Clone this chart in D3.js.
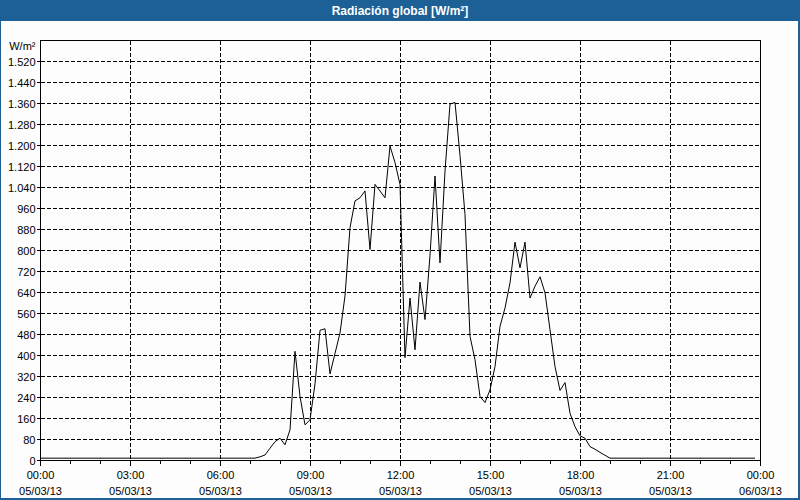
<!DOCTYPE html>
<html>
<head>
<meta charset="utf-8">
<script src="https://cdn.jsdelivr.net/npm/d3@7/dist/d3.min.js"></script>
<style>
  html, body { margin: 0; padding: 0; background: #ffffff; }
  svg { display: block; }
  text { font-family: "Liberation Sans", Arial, sans-serif; }
</style>
</head>
<body>
<svg id="chart" width="800" height="500"></svg>
<script>
// ---- Data (10-minute readings, 05/03/13 00:00 .. 23:50) ----
const title = "Radiación global [W/m²]";
const unitLabel = "W/m²";
const stepMinutes = 10;
const radiation = [
  // 00:00 - 00:50
  7, 7, 7, 7, 7, 7,
  // 01:00
  7, 7, 7, 7, 7, 7,
  // 02:00
  7, 7, 7, 7, 7, 7,
  // 03:00
  7, 7, 7, 7, 7, 7,
  // 04:00
  7, 7, 7, 7, 7, 7,
  // 05:00
  7, 7, 7, 7, 7, 7,
  // 06:00
  7, 7, 7, 7, 7, 7,
  // 07:00
  7, 7, 12, 19, 45, 70,
  // 08:00
  83, 58, 115, 414, 242, 134,
  // 09:00
  153, 290, 494, 500, 328, 406,
  // 10:00
  484, 625, 885, 987, 999, 1025,
  // 11:00
  802, 1050, 1025, 999, 1196, 1133,
  // 12:00
  1050, 390, 617, 420, 678, 535,
  // 13:00
  780, 1082, 751, 1100, 1356, 1362,
  // 14:00
  1160, 935, 471, 382, 242, 219,
  // 15:00
  267, 356, 509, 579, 675, 830,
  // 16:00
  732, 830, 617, 662, 698, 637,
  // 17:00
  496, 356, 265, 295, 178, 127,
  // 18:00
  92, 83, 51, 41, 29, 18,
  // 19:00
  7, 7, 7, 7, 7, 7,
  // 20:00
  7, 7, 7, 7, 7, 7,
  // 21:00
  7, 7, 7, 7, 7, 7,
  // 22:00
  7, 7, 7, 7, 7, 7,
  // 23:00
  7, 7, 7, 7, 7, 7
];
const xTickMinutes = [0, 180, 360, 540, 720, 900, 1080, 1260, 1440];
const xTimeLabels = ["00:00", "03:00", "06:00", "09:00", "12:00", "15:00", "18:00", "21:00", "00:00"];
const xDateLabels = ["05/03/13", "05/03/13", "05/03/13", "05/03/13", "05/03/13", "05/03/13", "05/03/13", "05/03/13", "06/03/13"];
const xMinorMinutes = [60, 120, 240, 300, 420, 480, 600, 660, 780, 840, 960, 1020, 1140, 1200, 1320, 1380];
const yTicks = [0, 80, 160, 240, 320, 400, 480, 560, 640, 720, 800, 880, 960, 1040, 1120, 1200, 1280, 1360, 1440, 1520];
const yMax = 1600;
const dayMinutes = 1440;

// ---- Layout ----
const W = 800, H = 500;
const plot = { left: 40, right: 760, top: 40, bottom: 460 };
const svg = d3.select("#chart");

const x = d3.scaleLinear().domain([0, dayMinutes]).range([plot.left, plot.right]);
const y = d3.scaleLinear().domain([0, yMax]).range([plot.bottom, plot.top]);

const locale = d3.formatLocale({ decimal: ",", thousands: ".", grouping: [3], currency: ["", "€"] });
const fmt = locale.format(",d");

// background + frame
svg.append("rect").attr("x", 0).attr("y", 0).attr("width", W).attr("height", H).attr("fill", "#1d6096");
svg.append("rect").attr("x", 1).attr("y", 21).attr("width", W - 3).attr("height", H - 23).attr("fill", "#fcfdfc");

// title
svg.append("text")
  .attr("x", W / 2).attr("y", 15)
  .attr("text-anchor", "middle")
  .attr("fill", "#ffffff")
  .attr("font-weight", "bold")
  .attr("font-size", "12px")
  .text(title);

// horizontal grid
const g = svg.append("g").attr("shape-rendering", "crispEdges");
g.selectAll("line.hgrid")
  .data(yTicks.filter(d => d > 0))
  .enter().append("line")
  .attr("class", "hgrid")
  .attr("x1", plot.left + 1).attr("x2", plot.right)
  .attr("y1", d => Math.round(y(d)) + 0.5).attr("y2", d => Math.round(y(d)) + 0.5)
  .attr("stroke", "#000").attr("stroke-width", 1).attr("stroke-dasharray", "4,2");

// vertical grid
g.selectAll("line.vgrid")
  .data(xTickMinutes.filter(d => d > 0 && d < dayMinutes))
  .enter().append("line")
  .attr("class", "vgrid")
  .attr("x1", d => Math.round(x(d)) + 0.5).attr("x2", d => Math.round(x(d)) + 0.5)
  .attr("y1", plot.top + 1).attr("y2", plot.bottom)
  .attr("stroke", "#000").attr("stroke-width", 1).attr("stroke-dasharray", "4,2");

// plot frame
g.append("rect")
  .attr("x", plot.left + 0.5).attr("y", plot.top + 0.5)
  .attr("width", plot.right - plot.left).attr("height", plot.bottom - plot.top)
  .attr("fill", "none").attr("stroke", "#000").attr("stroke-width", 1);

// y axis ticks + labels
const yAxis = d3.axisLeft(y).tickValues(yTicks).tickFormat(fmt).tickSize(4).tickPadding(1);
const ya = svg.append("g").attr("transform", `translate(${plot.left + 0.5},0)`).call(yAxis);
ya.select(".domain").remove();
ya.selectAll(".tick line").attr("stroke", "#000").attr("shape-rendering", "crispEdges");
ya.selectAll(".tick").attr("transform", d => `translate(0,${Math.round(y(d)) + 0.5})`);
ya.selectAll(".tick text")
  .attr("font-family", "Liberation Sans, Arial, sans-serif")
  .attr("font-size", "11px").attr("fill", "#000")
  .attr("x", -5).attr("dy", "4px");

svg.append("text")
  .attr("x", 35.5).attr("y", 50)
  .attr("text-anchor", "end").attr("font-size", "11px").attr("fill", "#000")
  .text(unitLabel);

// x axis major ticks + labels
const xAxis = d3.axisBottom(x).tickValues(xTickMinutes).tickSize(5).tickFormat(() => "");
const xa = svg.append("g").attr("transform", `translate(0,${plot.bottom + 0.5})`).call(xAxis);
xa.select(".domain").remove();
xa.selectAll(".tick").attr("transform", d => `translate(${Math.round(x(d)) + 0.5},0)`);
xa.selectAll(".tick line").attr("stroke", "#000").attr("shape-rendering", "crispEdges");
xa.selectAll(".tick text").remove();
xa.selectAll(".tick").each(function(d, i) {
  const t = d3.select(this);
  t.append("text").attr("y", 18).attr("text-anchor", "middle").attr("font-size", "11px").attr("fill", "#000").text(xTimeLabels[i]);
  t.append("text").attr("y", 34).attr("text-anchor", "middle").attr("font-size", "11px").attr("fill", "#000").text(xDateLabels[i]);
});

// x minor ticks
const xm = d3.axisBottom(x).tickValues(xMinorMinutes).tickSize(3).tickFormat(() => "");
const xma = svg.append("g").attr("transform", `translate(0,${plot.bottom + 0.5})`).call(xm);
xma.select(".domain").remove();
xma.selectAll(".tick").attr("transform", d => `translate(${Math.round(x(d)) + 0.5},0)`);
xma.selectAll(".tick line").attr("stroke", "#000").attr("shape-rendering", "crispEdges");

// data line
const line = d3.line()
  .x((d, i) => x(i * stepMinutes))
  .y(d => y(d));
svg.append("path")
  .datum(radiation)
  .attr("d", line)
  .attr("fill", "none")
  .attr("stroke", "#000")
  .attr("stroke-width", 1);
</script>
</body>
</html>
